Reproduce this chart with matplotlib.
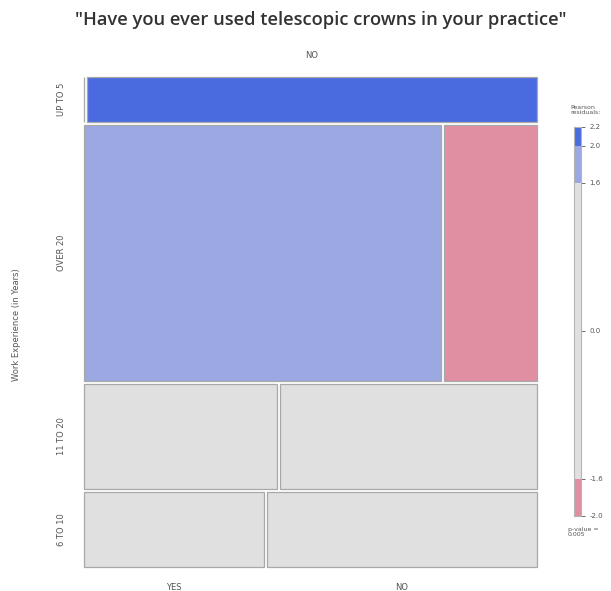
import numpy as np
import matplotlib
matplotlib.use("Agg")
import matplotlib.pyplot as plt
from matplotlib.patches import Rectangle

# counts: work experience (rows) x telescopic crowns answer (columns)
rows = ["UP TO 5", "OVER 20", "11 TO 20", "6 TO 10"]
cols = ["YES", "NO"]
yes_counts = [0, 27, 6, 4]
no_counts = [6, 7, 8, 6]

# legend breaks of the residual shading
legend_ticks = [2.2, 2.0, 1.6, 0.0, -1.6, -2.0]
p_value_text = "p-value =\n0.005"

DARK_BLUE = "#4a6be0"
MID_BLUE = "#9ba8e2"
PINK = "#e08fa2"
GREY = "#e0e0e0"
EDGE = "#a8a8a8"
TXT = "#555555"

obs = np.array([yes_counts, no_counts], dtype=float).T
n = obs.sum()
expected = np.outer(obs.sum(axis=1), obs.sum(axis=0)) / n
resid = (obs - expected) / np.sqrt(expected)


def shade(r):
    if r >= 2.0:
        return DARK_BLUE
    if r >= 1.6:
        return MID_BLUE
    if r <= -2.0:
        return "#d0607a"
    if r <= -1.6:
        return PINK
    return GREY


fig = plt.figure(figsize=(6.11, 5.91), dpi=100)
W, H = 611.0, 591.0

# mosaic panel
x0, x1, y0, y1 = 84, 537, 77, 567
ax = fig.add_axes([x0 / W, 1 - y1 / H, (x1 - x0) / W, (y1 - y0) / H])
ax.set_xlim(0, x1 - x0)
ax.set_ylim(y1 - y0, 0)
ax.axis("off")

gap = 3.0
avail_h = (y1 - y0) - gap * (len(rows) - 1)
avail_w = (x1 - x0) - gap * (len(cols) - 1)
row_tot = obs.sum(axis=1)

y = 0.0
row_mid = []
col_mids = []
for i, name in enumerate(rows):
    h = avail_h * row_tot[i] / n
    x = 0.0
    mids = []
    for j in range(len(cols)):
        w = avail_w * obs[i, j] / row_tot[i]
        ax.add_patch(Rectangle((x, y), w, h, facecolor=shade(resid[i, j]),
                               edgecolor=EDGE, lw=0.9, clip_on=False))
        mids.append(x + w / 2)
        x += w + gap
    row_mid.append(y + h / 2)
    col_mids.append(mids)
    y += h + gap

# row labels on the left
for name, ym in zip(rows, row_mid):
    fig.text(62 / W, 1 - (y0 + ym) / H, name, rotation=90, ha="center",
             va="center", fontsize=6, color=TXT)

# column labels: top row on top, bottom row below
fig.text((x0 + col_mids[0][1]) / W, 1 - 56 / H, cols[1], ha="center",
         va="center", fontsize=6, color=TXT)
for j, name in enumerate(cols):
    fig.text((x0 + col_mids[-1][j]) / W, 1 - 588 / H, name, ha="center",
             va="center", fontsize=6, color=TXT)

fig.text(17 / W, 1 - 325 / H, "Work Experience (in Years)", rotation=90,
         ha="center", va="center", fontsize=6, color=TXT)

fig.text(321 / W, 1 - 20 / H, '"Have you ever used telescopic crowns in your practice"',
         ha="center", va="center", fontsize=13.2, fontweight=600,
         family=["Open Sans", "DejaVu Sans"], color="#333333")

# shading legend
cb_x0, cb_x1, cb_top, cb_bot = 574, 581, 127, 516
cax = fig.add_axes([cb_x0 / W, 1 - cb_bot / H, (cb_x1 - cb_x0) / W,
                    (cb_bot - cb_top) / H])
lo, hi = legend_ticks[-1], legend_ticks[0]
bands = [(lo, -1.6, PINK), (-1.6, 1.6, GREY), (1.6, 2.0, MID_BLUE), (2.0, hi, DARK_BLUE)]
for a, b, c in bands:
    cax.add_patch(Rectangle((0, a), 1, b - a, facecolor=c, edgecolor="none"))
cax.set_xlim(0, 1)
cax.set_ylim(lo, hi)
cax.set_xticks([])
cax.yaxis.tick_right()
cax.set_yticks(legend_ticks)
cax.set_yticklabels([f"{t:.1f}" for t in legend_ticks])
cax.tick_params(axis="y", labelsize=5, colors=TXT, length=3, width=0.6, pad=3)
for s in cax.spines.values():
    s.set_color("#b5b5b5")
    s.set_linewidth(0.8)

fig.text(570 / W, 1 - 110 / H, "Pearson\nresiduals:", ha="left", va="center",
         fontsize=4.5, color=TXT, linespacing=0.9)
fig.text(568 / W, 1 - 532 / H, p_value_text, ha="left", va="center",
         fontsize=4.5, color=TXT, linespacing=0.9)

fig.savefig("out.png", dpi=100, facecolor="white")
